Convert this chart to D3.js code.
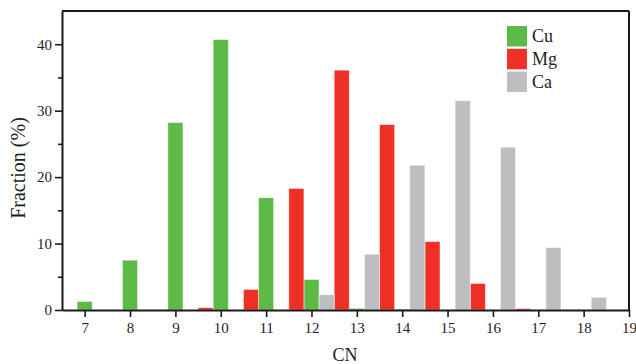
<!DOCTYPE html>
<html>
<head>
<meta charset="utf-8">
<script src="https://cdn.jsdelivr.net/npm/d3@7"></script>
<style>
  html, body { margin: 0; padding: 0; background: #fff; }
  svg { display: block; }
  text { font-family: "Liberation Serif", "Times New Roman", serif; fill: #1e1e1e; }
</style>
</head>
<body>
<svg id="chart" width="636" height="364"></svg>
<script>
const cn = [7, 8, 9, 10, 11, 12, 13, 14, 15, 16, 17, 18];
const cu = [1.3, 7.5, 28.2, 40.7, 16.9, 4.6, 0.25, 0.15, 0, 0, 0, 0];
const mg = [0, 0, 0, 0.35, 3.1, 18.3, 36.1, 27.9, 10.3, 4.0, 0.2, 0];
const ca = [0, 0, 0, 0, 0, 2.3, 8.4, 21.8, 31.5, 24.5, 9.4, 1.9];
const xTicks = [7, 8, 9, 10, 11, 12, 13, 14, 15, 16, 17, 18, 19];
const yTicks = [0, 10, 20, 30, 40];
const yMinor = [5, 15, 25, 35];

const seriesNames = ["Cu", "Mg", "Ca"];
const seriesColors = { Cu: "#5dba47", Mg: "#ee3026", Ca: "#bcbec0" };
const seriesOffset = { Mg: -1, Cu: 0, Ca: 1 };
const seriesData = { Cu: cu, Mg: mg, Ca: ca };

const W = 636, H = 364;
const m = { left: 62, right: 7, top: 11, bottom: 54 };
const svg = d3.select("#chart");

const x = d3.scaleLinear().domain([6.5, 19]).range([m.left, W - m.right]);
const y = d3.scaleLinear().domain([0, 45]).range([H - m.bottom, m.top]);
const bw = x(1 / 3) - x(0);

// bars
seriesNames.forEach(name => {
  svg.append("g").selectAll("rect")
    .data(cn.map((c, i) => ({ c, v: seriesData[name][i] })).filter(d => d.v > 0))
    .join("rect")
    .attr("x", d => x(d.c + seriesOffset[name] / 3) - bw / 2)
    .attr("width", bw)
    .attr("y", d => y(d.v))
    .attr("height", d => y(0) - y(d.v))
    .attr("fill", seriesColors[name])
    .attr("stroke", "rgba(255,255,255,0.6)")
    .attr("stroke-width", 0.8);
});

// axes
const axisColor = "#1a1a1a";
const gx = svg.append("g").attr("transform", `translate(0,${y(0)})`)
  .call(d3.axisBottom(x).tickValues(xTicks).tickFormat(d3.format("d")).tickSizeInner(7).tickSizeOuter(0).tickPadding(5));
const gy = svg.append("g").attr("transform", `translate(${m.left},0)`)
  .call(d3.axisLeft(y).tickValues(yTicks).tickSizeInner(7).tickSizeOuter(0).tickPadding(3));
const gym = svg.append("g").attr("transform", `translate(${m.left},0)`)
  .call(d3.axisLeft(y).tickValues(yMinor).tickSize(4).tickFormat(""));
[gx, gy, gym].forEach(g => {
  g.selectAll("line").attr("stroke", axisColor).attr("stroke-width", 1.6);
  g.select(".domain").attr("stroke", axisColor).attr("stroke-width", 2);
  g.selectAll("text").attr("font-size", 15).attr("fill", "#1e1e1e");
});
gym.select(".domain").remove();

// frame top and right
svg.append("line").attr("x1", m.left).attr("x2", W - m.right).attr("y1", m.top).attr("y2", m.top)
  .attr("stroke", axisColor).attr("stroke-width", 2);
svg.append("line").attr("x1", W - m.right).attr("x2", W - m.right).attr("y1", m.top).attr("y2", y(0))
  .attr("stroke", axisColor).attr("stroke-width", 2);

// axis titles
svg.append("text").attr("x", 345).attr("y", 361)
  .attr("text-anchor", "middle").attr("font-size", 18).text("CN");
svg.append("text").attr("transform", `translate(25,168) rotate(-90)`)
  .attr("text-anchor", "middle").attr("font-size", 20).text("Fraction (%)");

// legend
const lg = svg.append("g").attr("transform", "translate(507,26)");
seriesNames.forEach((name, i) => {
  lg.append("rect").attr("x", 0).attr("y", i * 22.8).attr("width", 20).attr("height", 20.5)
    .attr("fill", seriesColors[name]);
  lg.append("text").attr("x", 25).attr("y", i * 22.8 + 16).attr("font-size", 18).text(name);
});
</script>
</body>
</html>
